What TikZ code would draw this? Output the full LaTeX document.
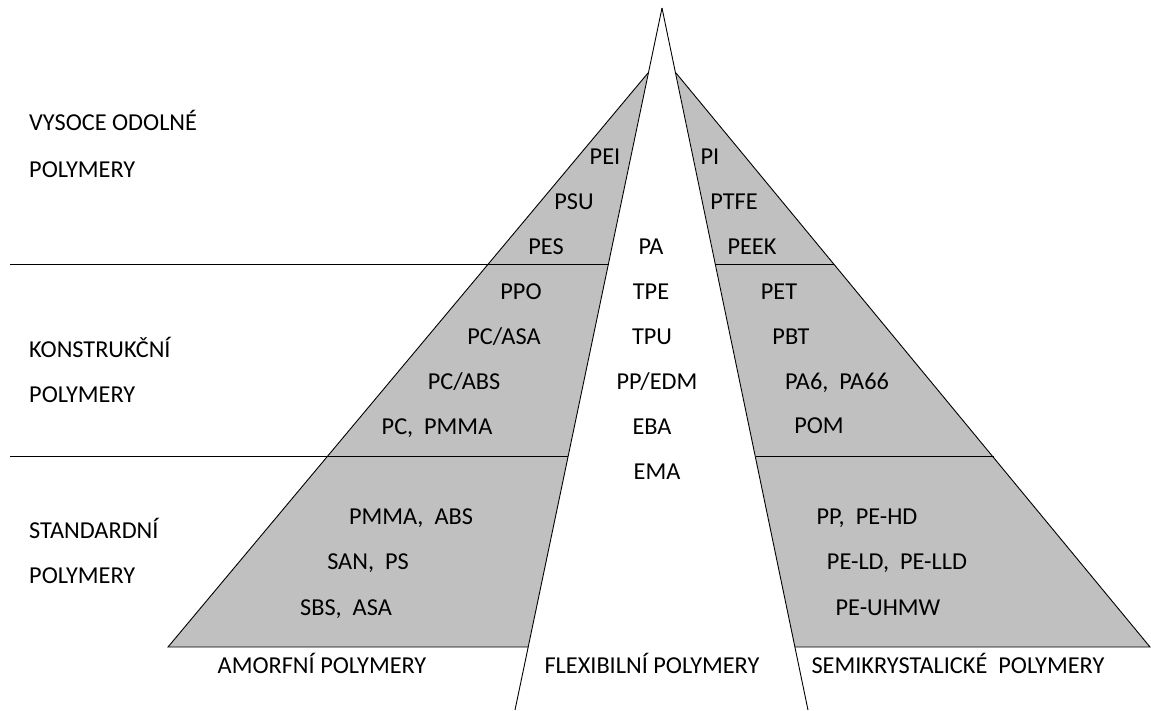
\documentclass[tikz,border=0pt]{standalone}
\usepackage{fontspec}
\setmainfont{Carlito}
\definecolor{fillgray}{RGB}{192,192,192}
\begin{document}
\begin{tikzpicture}[x=1pt,y=-1pt,
  lbl/.style={anchor=base,inner sep=0pt,font=\fontsize{24.3}{28}\selectfont},
  side/.style={anchor=base west,inner sep=0pt,font=\fontsize{24.3}{28}\selectfont},
  edge/.style={line width=0.9pt,black},
  region/.style={fill=fillgray,draw=none}]
\useasboundingbox (0,0) rectangle (1151,710);
\clip (0,0) rectangle (1151,710);
% coordinates
\coordinate (peak) at (662,8);
\coordinate (ilb) at (515,710);
\coordinate (irb) at (808,710);
\coordinate (la) at (648,73);
\coordinate (lbl) at (168,647);
\coordinate (lbr) at (528,647);
\coordinate (ra) at (676,73);
\coordinate (rbr) at (1150,647);
\coordinate (rbl) at (795,647);
% gray regions
\fill[region] (la) -- (lbl) -- (lbr) -- cycle;
\fill[region] (ra) -- (rbr) -- (rbl) -- cycle;
% outlines
\draw[edge] (la) -- (lbl) -- (lbr);
\draw[edge] (ra) -- (rbr) -- (rbl);
\draw[edge] (peak) -- (ilb);
\draw[edge] (peak) -- (irb);
% horizontal dividers
\coordinate (h1a) at (10,264); \coordinate (h1b) at (608.5,264);
\coordinate (h1c) at (716,264); \coordinate (h1d) at (834,264);
\coordinate (h2a) at (10,456.5); \coordinate (h2b) at (568,456.5);
\coordinate (h2c) at (756,456.5); \coordinate (h2d) at (994,456.5);
\draw[edge] (h1a) -- (h1b);
\draw[edge] (h1c) -- (h1d);
\draw[edge] (h2a) -- (h2b);
\draw[edge] (h2c) -- (h2d);
% side labels
\node[side] (s1a) at (29,130) {VYSOCE ODOLNÉ};
\node[side] (s1b) at (29,177) {POLYMERY};
\node[side] (s2a) at (29,357) {KONSTRUKČNÍ};
\node[side] (s2b) at (29,402) {POLYMERY};
\node[side] (s3a) at (29,538) {STANDARDNÍ};
\node[side] (s3b) at (29,583) {POLYMERY};
% amorphous
\node[lbl] (a1) at (605,164) {PEI};
\node[lbl] (a2) at (574,209) {PSU};
\node[lbl] (a3) at (546,254) {PES};
\node[lbl] (a4) at (521,299) {PPO};
\node[lbl] (a5) at (504,344) {PC/ASA};
\node[lbl] (a6) at (464,389) {PC/ABS};
\node[lbl] (a7) at (437,434) {PC,\ \ PMMA};
\node[lbl] (a8) at (411,524) {PMMA,\ \ ABS};
\node[lbl] (a9) at (368,569) {SAN,\ \ PS};
\node[lbl] (a10) at (346,615) {SBS,\ \ ASA};
% flexible
\node[lbl] (f1) at (651,254) {PA};
\node[lbl] (f2) at (651,299) {TPE};
\node[lbl] (f3) at (652,344) {TPU};
\node[lbl] (f4) at (657,389) {PP/EDM};
\node[lbl] (f5) at (652,434) {EBA};
\node[lbl] (f6) at (657,479) {EMA};
% semicrystalline
\node[lbl] (c1) at (710,164) {PI};
\node[lbl] (c2) at (734,209) {PTFE};
\node[lbl] (c3) at (752,254) {PEEK};
\node[lbl] (c4) at (779,299) {PET};
\node[lbl] (c5) at (791,344) {PBT};
\node[lbl] (c6) at (837,389) {PA6,\ \ PA66};
\node[lbl] (c7) at (819,433) {POM};
\node[lbl] (c8) at (867,524) {PP,\ \ PE-HD};
\node[lbl] (c9) at (897,569) {PE-LD,\ \ PE-LLD};
\node[lbl] (c10) at (888,615) {PE-UHMW};
% bottom captions
\node[lbl] (b1) at (322,673) {AMORFNÍ POLYMERY};
\node[lbl] (b2) at (652,673) {FLEXIBILNÍ POLYMERY};
\node[lbl] (b3) at (958,673) {SEMIKRYSTALICKÉ\ \ POLYMERY};
\end{tikzpicture}
\end{document}
